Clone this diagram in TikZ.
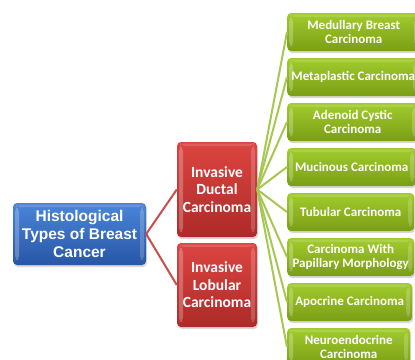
\documentclass[tikz,border=0pt]{standalone}
\usepackage{fontspec}
\newfontfamily\carlito{Carlito}
\newfontfamily\arialf{Liberation Sans}
\usetikzlibrary{shadows}
\definecolor{bluetop}{HTML}{4A86D8}
\definecolor{bluebot}{HTML}{2856A6}
\definecolor{redtop}{HTML}{DC4541}
\definecolor{redbot}{HTML}{AE2A28}
\definecolor{greentop}{HTML}{A2CC2E}
\definecolor{greenbot}{HTML}{7A9E14}
\definecolor{redline}{HTML}{C8504C}
\definecolor{greenline}{HTML}{A6C850}
\tikzset{
  glossy/.style={rounded corners=4pt, draw=none, align=center, text=white, inner sep=1pt,
    drop shadow={opacity=0.3, shadow xshift=1pt, shadow yshift=-2pt},
    path picture={
      \fill[white,opacity=0.25] ([xshift=2pt,yshift=-5pt]path picture bounding box.north west) rectangle ([xshift=6pt,yshift=5pt]path picture bounding box.south west);
      \fill[white,opacity=0.2] ([xshift=-6pt,yshift=-5pt]path picture bounding box.north east) rectangle ([xshift=-2pt,yshift=5pt]path picture bounding box.south east);
      \fill[white,opacity=0.15] ([xshift=3pt,yshift=-1.5pt]path picture bounding box.north west) rectangle ([xshift=-3pt,yshift=-4pt]path picture bounding box.north east);
    }},
  rootbox/.style={glossy, top color=bluetop, bottom color=bluebot, minimum width=133pt, minimum height=62pt,
    font=\arialf\bfseries\fontsize{15.5}{18}\selectfont},
  redbox/.style={glossy, top color=redtop, bottom color=redbot, minimum width=80pt,
    font=\carlito\bfseries\fontsize{15.5}{17.5}\selectfont},
  greenbox/.style={glossy, top color=greentop, bottom color=greenbot, minimum height=38pt, anchor=west,
    font=\carlito\bfseries\fontsize{13}{14.5}\selectfont},
  redcon/.style={draw=redline, line width=2pt},
  greencon/.style={draw=greenline, line width=2pt}
}
\begin{document}
\begin{tikzpicture}[x=1pt,y=-1pt]
\useasboundingbox[fill=white] (0,0) rectangle (415,359);
\node[rootbox] (root) at (79.5,234) {Histological\\Types of Breast\\Cancer};
\node[redbox, minimum height=95pt] (idc) at (217,189.5) {Invasive\\Ductal\\Carcinoma};
\node[redbox, minimum height=84pt] (ilc) at (217,285) {Invasive\\Lobular\\Carcinoma};
\node[greenbox, minimum width=133pt] (g1) at (287,32) {Medullary Breast\\Carcinoma};
\node[greenbox, minimum width=132pt] (g2) at (287,77) {Metaplastic Carcinoma};
\node[greenbox, minimum width=131pt] (g3) at (287,122) {Adenoid Cystic\\Carcinoma};
\node[greenbox, minimum width=129pt] (g4) at (287,167) {Mucinous Carcinoma};
\node[greenbox, minimum width=127pt] (g5) at (287,212) {Tubular Carcinoma};
\node[greenbox, minimum width=127pt] (g6) at (287,257) {Carcinoma With\\Papillary Morphology};
\node[greenbox, minimum width=125pt] (g7) at (287,302) {Apocrine Carcinoma};
\node[greenbox, minimum width=123pt] (g8) at (287,347) {Neuroendocrine\\Carcinoma};
\draw[redcon] (root.east) -- (idc.west);
\draw[redcon] (root.east) -- (ilc.west);
\foreach \g in {g1,g2,g3,g4,g5,g6,g7,g8}
  \draw[greencon] (idc.east) -- (\g.west);
\end{tikzpicture}
\end{document}
